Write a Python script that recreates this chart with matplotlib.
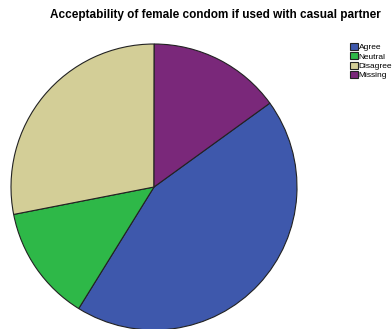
import matplotlib.pyplot as plt

labels = ["Agree", "Neutral", "Disagree", "Missing"]
values = [43.8, 13.1, 28.1, 15.0]
colors = ["#3E58AC", "#2EB848", "#D3CE97", "#7A287A"]

W, H = 392, 329
fig = plt.figure(figsize=(W / 100, H / 100), dpi=100)
plt.rcParams['font.family'] = ['Liberation Sans', 'DejaVu Sans']

# pie centre at (154, 187) px, radius ~143 px
cx, cy, r = 154, 187, 143
ax = fig.add_axes([(cx - r) / W, (H - cy - r) / H, 2 * r / W, 2 * r / H])
wedges, _ = ax.pie(values, colors=colors, startangle=35.9, counterclock=False,
                   wedgeprops=dict(edgecolor="#222222", linewidth=0.8))
ax.set_xlim(-1, 1)
ax.set_ylim(-1, 1)
ax.set_aspect('equal')
ax.axis('off')

fig.text(215 / W, 1 - 15 / H, "Acceptability of female condom if used with casual partner",
         ha='center', va='center', fontsize=8.5, fontweight='bold')

fig.legend(wedges, labels, loc='upper left', bbox_to_anchor=(350 / W, 1 - 43 / H),
           frameon=False, fontsize=6.0, handlelength=0.95, handleheight=0.95,
           handletextpad=0.1, labelspacing=0.1, borderpad=0, borderaxespad=0)

fig.savefig("out.png", dpi=100)
